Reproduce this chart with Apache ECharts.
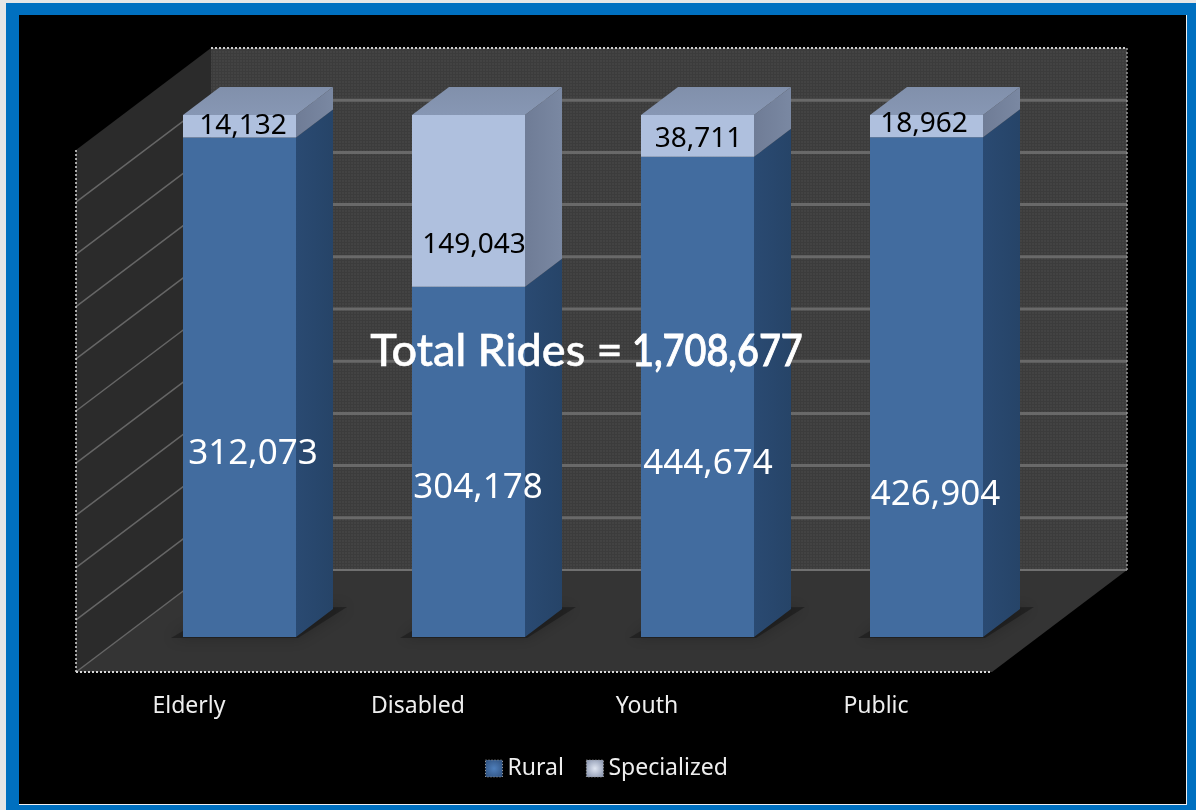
<!DOCTYPE html>
<html style="height: 100%">
<head>
    <meta charset="UTF-8">
    <title>Total Rides</title>
</head>
<body style="height: 100%; margin: 0; background: #e6e6e6">
<div id="container" style="width: 1196px; height: 810px"></div>
<script src="https://cdn.jsdelivr.net/npm/echarts@6/dist/echarts.min.js"></script>
<script>
    var categories = ['Elderly', 'Disabled', 'Youth', 'Public'];
    var ruralRides = [312073, 304178, 444674, 426904];
    var specializedRides = [14132, 149043, 38711, 18962];
    var shareTicks = [0, 10, 20, 30, 40, 50, 60, 70, 80, 90, 100];

    // the picture is a 100% stacked column, labels carry the raw rides
    var ruralData = [];
    var specializedData = [];
    var totalRides = 0;
    for (var i = 0; i < categories.length; i++) {
        var sum = ruralRides[i] + specializedRides[i];
        ruralData.push([i, 0, ruralRides[i] / sum * 100, ruralRides[i]]);
        specializedData.push([i, ruralRides[i] / sum * 100, 100, specializedRides[i]]);
        totalRides += sum;
    }

    // fake 3d: offsets from the axis (front) plane, in pixels
    var barOffset = [49, -35];
    var barDepth = [37, -28];
    var wallOffset = [135, -102];
    var barWidth = 113;
    // the labels were placed by hand in the original, nudges from the segment centre
    var ruralNudge = [[13.5, 66.5], [9.5, 26.5], [10.5, 67.5], [9, 107.5]];
    var specializedNudge = [[3.5, -0.5], [5.5, 44.5], [1, 3.5], [-2.5, -2]];

    function fmt(n) {
        return n.toString().replace(/\B(?=(\d{3})+(?!\d))/g, ',');
    }

    function wallPattern() {
        var c = document.createElement('canvas');
        c.width = 3;
        c.height = 3;
        var ctx = c.getContext('2d');
        ctx.fillStyle = '#434343';
        ctx.fillRect(0, 0, 3, 3);
        ctx.fillStyle = '#3c3c3c';
        ctx.fillRect(0, 2, 3, 1);
        ctx.fillRect(2, 0, 1, 3);
        return c;
    }
    var pattern = {image: wallPattern(), repeat: 'repeat'};

    function vGrad(a, b) {
        return {type: 'linear', x: 0, y: 0, x2: 0, y2: 1, colorStops: [{offset: 0, color: a}, {offset: 1, color: b}]};
    }
    function hGrad(a, b) {
        return {type: 'linear', x: 0, y: 0, x2: 1, y2: 0, colorStops: [{offset: 0, color: a}, {offset: 1, color: b}]};
    }

    function poly(points, fill) {
        return {type: 'polygon', shape: {points: points}, style: {fill: fill}};
    }
    function edge(a, b, color, width, dash) {
        return {
            type: 'line',
            shape: {x1: a[0], y1: a[1], x2: b[0], y2: b[1]},
            style: {stroke: color, lineWidth: width, lineDash: dash || null}
        };
    }
    function move(p, o) {
        return [p[0] + o[0], p[1] + o[1]];
    }

    // walls and floor, drawn once from the last tick
    function renderWalls(params, api) {
        var band = api.size([1, 0])[0];
        var first = api.coord([0, 0]);
        var top = api.coord([0, 100])[1];
        var left = first[0] - band / 2;
        var right = left + band * categories.length;
        var bottom = first[1];
        var fl = [left, bottom], fr = [right, bottom], tl = [left, top];
        var children = [
            poly([tl, move(tl, wallOffset), move(fl, wallOffset), fl], '#2b2b2b'),
            poly([fl, fr, move(fr, wallOffset), move(fl, wallOffset)], '#343434'),
            poly([move(tl, wallOffset), [right + wallOffset[0], top + wallOffset[1]], move(fr, wallOffset), move(fl, wallOffset)], pattern)
        ];
        for (var t = 0; t < shareTicks.length; t++) {
            var y = api.coord([0, shareTicks[t]])[1];
            var a = [left, y];
            if (t > 0 && t < shareTicks.length - 1) {
                children.push(edge(move(a, wallOffset), [right + wallOffset[0], y + wallOffset[1]], '#696969', 3));
            }
            if (t === 0) {
                children.push(edge(move(a, wallOffset), [right + wallOffset[0], y + wallOffset[1]], '#707070', 2));
            }
            if (t < shareTicks.length - 1) {
                children.push(edge(a, move(a, wallOffset), '#666666', 1.5));
            }
        }
        children.push(edge(move(tl, wallOffset), [right + wallOffset[0], top + wallOffset[1]], '#cfcfcf', 2, [2, 2]));
        children.push(edge([right + wallOffset[0], top + wallOffset[1]], move(fr, wallOffset), '#9a9a9a', 1.5, [2, 2]));
        children.push(edge(tl, fl, '#d8d8d8', 1.5, [2, 2]));
        children.push(edge(fl, fr, '#d8d8d8', 2, [2, 2]));
        return {type: 'group', children: children};
    }

    function barRenderer(front, sideTop, sideBottom, topA, topB, textColor, fontSize, nudge, withShadow) {
        return function (params, api) {
            var idx = api.value(0);
            var low = api.coord([idx, api.value(1)]);
            var high = api.coord([idx, api.value(2)]);
            var x0 = low[0] + barOffset[0] - barWidth / 2;
            var x1 = x0 + barWidth;
            var yLow = low[1] + barOffset[1];
            var yHigh = high[1] + barOffset[1];
            var bl = [x0, yLow], br = [x1, yLow], tl = [x0, yHigh], tr = [x1, yHigh];
            var children = [];
            if (withShadow) {
                var shadow = poly([[x0 - 12, yLow + 1], [x1 + 2, yLow + 1], move(br, [barDepth[0] + 14, barDepth[1] - 2]), move(bl, [barDepth[0], barDepth[1]])], 'rgba(0,0,0,0.3)');
                shadow.style.shadowBlur = 14;
                shadow.style.shadowColor = 'rgba(0,0,0,0.7)';
                children.push(shadow);
            }
            children.push(poly([bl, br, tr, tl], front));
            children.push(poly([br, move(br, barDepth), move(tr, barDepth), tr], hGrad(sideTop, sideBottom)));
            if (topA) {
                children.push(poly([tl, tr, move(tr, barDepth), move(tl, barDepth)], vGrad(topA, topB)));
            }
            children.push({
                type: 'text',
                z2: 20,
                style: {
                    x: (x0 + x1) / 2 + nudge[idx][0],
                    y: (yLow + yHigh) / 2 + nudge[idx][1],
                    text: fmt(api.value(3)),
                    fill: textColor,
                    font: fontSize + 'px "Noto Sans"',
                    align: 'center',
                    verticalAlign: 'middle'
                }
            });
            return {type: 'group', children: children};
        };
    }

    var dom = document.getElementById('container');
    var myChart = echarts.init(dom);
    var option = {
        animation: false,
        backgroundColor: '#e6e6e6',
        grid: {left: 76, top: 150, width: 916, height: 522},
        xAxis: {
            type: 'category',
            data: categories,
            z: 10,
            axisLine: {show: false},
            axisTick: {show: false},
            axisLabel: {color: '#eeeeee', fontFamily: 'Noto Sans', fontSize: 23, margin: 23, padding: [0, 3, 0, 0]}
        },
        yAxis: {
            type: 'value',
            min: 0,
            max: 100,
            interval: 10,
            axisLine: {show: false},
            axisTick: {show: false},
            axisLabel: {show: false},
            splitLine: {show: false}
        },
        legend: {
            data: ['Rural', 'Specialized'],
            left: 485,
            top: 757,
            padding: 0,
            itemWidth: 17,
            itemHeight: 17,
            itemGap: 22,
            icon: 'rect',
            textStyle: {color: '#eeeeee', fontFamily: 'Noto Sans', fontSize: 23},
            itemStyle: {borderColor: '#999999', borderWidth: 1, borderType: [1, 2]}
        },
        graphic: [
            {type: 'rect', z: 0, shape: {x: 6, y: 3, width: 1190, height: 807}, style: {fill: '#0070c0'}},
            {type: 'rect', z: 0, shape: {x: 19, y: 15, width: 1168, height: 790}, style: {fill: '#f0f0f0'}},
            {type: 'rect', z: 1, shape: {x: 19, y: 15, width: 1167, height: 789}, style: {fill: '#000000'}},
            {
                type: 'text',
                z: 100,
                left: 370,
                top: 329,
                style: {
                    text: 'Total Rides =',
                    fill: '#ffffff',
                    stroke: '#ffffff',
                    lineWidth: 0.5,
                    font: '500 45px Lato'
                }
            },
            {
                type: 'text',
                z: 100,
                x: 632,
                y: 329,
                scaleX: 0.84,
                style: {
                    text: fmt(totalRides),
                    fill: '#ffffff',
                    stroke: '#ffffff',
                    lineWidth: 1,
                    font: '500 45px Lato'
                }
            }
        ],
        series: [
            {
                type: 'custom',
                name: 'walls',
                data: [[0, 0]],
                renderItem: renderWalls,
                silent: true
            },
            {
                type: 'custom',
                name: 'Rural',
                data: ruralData,
                encode: {x: 0, y: 2},
                itemStyle: {color: {type: 'radial', x: 0.5, y: 0.5, r: 0.7, colorStops: [{offset: 0, color: '#4f7fbb'}, {offset: 1, color: '#2c4c78'}]}},
                renderItem: barRenderer('#426c9f', '#2a4a72', '#264468', null, null, '#ffffff', 35, ruralNudge, true)
            },
            {
                type: 'custom',
                name: 'Specialized',
                data: specializedData,
                encode: {x: 0, y: 2},
                itemStyle: {color: {type: 'radial', x: 0.5, y: 0.5, r: 0.7, colorStops: [{offset: 0, color: '#dfe5f1'}, {offset: 1, color: '#7f8ba6'}]}},
                renderItem: barRenderer('#afc0de', '#6f7c96', '#7a88a2', '#8190ab', '#8797b4', '#000000', 28, specializedNudge, false)
            }
        ]
    };
    myChart.setOption(option);
</script>
</body>
</html>
